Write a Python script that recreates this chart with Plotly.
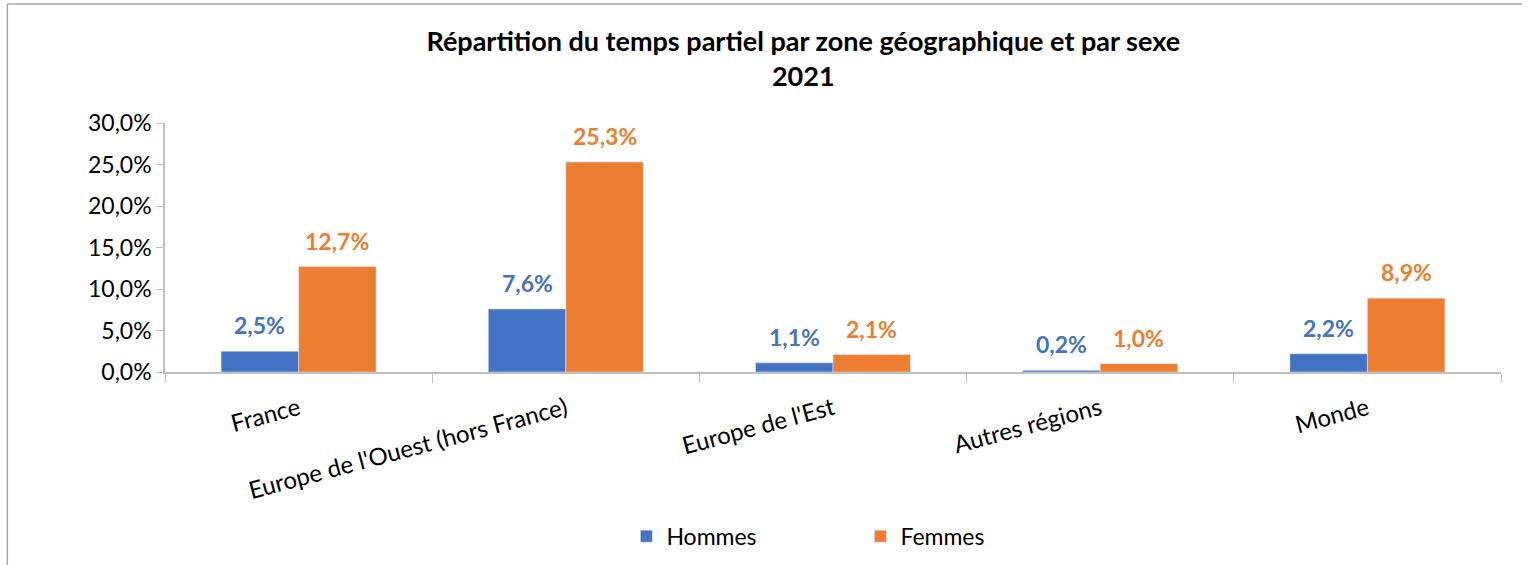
# Répartition du temps partiel par zone géographique et par sexe, 2021
import plotly.graph_objects as go

zones = ["France", "Europe de l'Ouest (hors France)", "Europe de l'Est",
         "Autres régions", "Monde"]
hommes = [2.5, 7.6, 1.1, 0.2, 2.2]
femmes = [12.7, 25.3, 2.1, 1.0, 8.9]

BLUE = "#4472C4"
ORANGE = "#ED7D31"
FONT = "Lato"

fig = go.Figure()
fig.add_trace(go.Bar(x=zones, y=hommes, name="Hommes", marker_color=BLUE))
fig.add_trace(go.Bar(x=zones, y=femmes, name="Femmes", marker_color=ORANGE))

# data labels sitting a bit above each bar
for vals, col, shift in [(hommes, BLUE, -38.7), (femmes, ORANGE, 38.7)]:
    for z, v in zip(zones, vals):
        fig.add_annotation(x=z, y=v, text=f"<b>{v:.1f}%</b>".replace(".", ","),
                           showarrow=False, xshift=shift, yshift=26,
                           font=dict(family=FONT, size=23, color=col))

fig.update_layout(
    width=1530, height=565,
    margin=dict(l=165, r=29, t=123, b=193),
    paper_bgcolor="white", plot_bgcolor="white",
    barmode="group", bargap=0.42, bargroupgap=0,
    separators=", ",
    font=dict(family=FONT, size=22, color="black"),
    title=dict(text="<b>Répartition du temps partiel par zone géographique et par sexe<br>2021</b>",
               x=0.525, xanchor="center", y=0.91, yanchor="top",
               font=dict(family=FONT, size=27, color="black")),
    legend=dict(orientation="h", x=0.5205, xanchor="center",
                yref="container", y=0.089, yanchor="top",
                entrywidth=189, font=dict(family=FONT, size=23)),
    showlegend=True,
)
fig.update_xaxes(showline=True, linecolor="#BFBFBF", linewidth=1.5, automargin=False,
                 ticks="outside", tickson="boundaries", ticklen=9, tickcolor="#BFBFBF",
                 tickangle=-15, ticklabelstandoff=12, tickfont=dict(family=FONT, size=24))
fig.update_yaxes(range=[0, 30], dtick=5, tickformat=".1f", ticksuffix="%",
                 showgrid=False, zeroline=False, automargin=False,
                 showline=True, linecolor="#BFBFBF", linewidth=1.5,
                 ticks="outside", ticklen=7, tickcolor="#BFBFBF",
                 tickfont=dict(family=FONT, size=23))

# outer chart border (top and left edges visible in the reference)
fig.add_shape(type="line", xref="paper", yref="paper",
              x0=-0.118, x1=1.016, y0=1.478, y1=1.478,
              line=dict(color="#A6A6A6", width=1.5), layer="below")
fig.add_shape(type="line", xref="paper", yref="paper",
              x0=-0.118, x1=-0.118, y0=-0.9, y1=1.478,
              line=dict(color="#A6A6A6", width=1.5), layer="below")

fig.write_html("out.html", config={"displayModeBar": False},
               post_script="document.body.style.margin='0';")
